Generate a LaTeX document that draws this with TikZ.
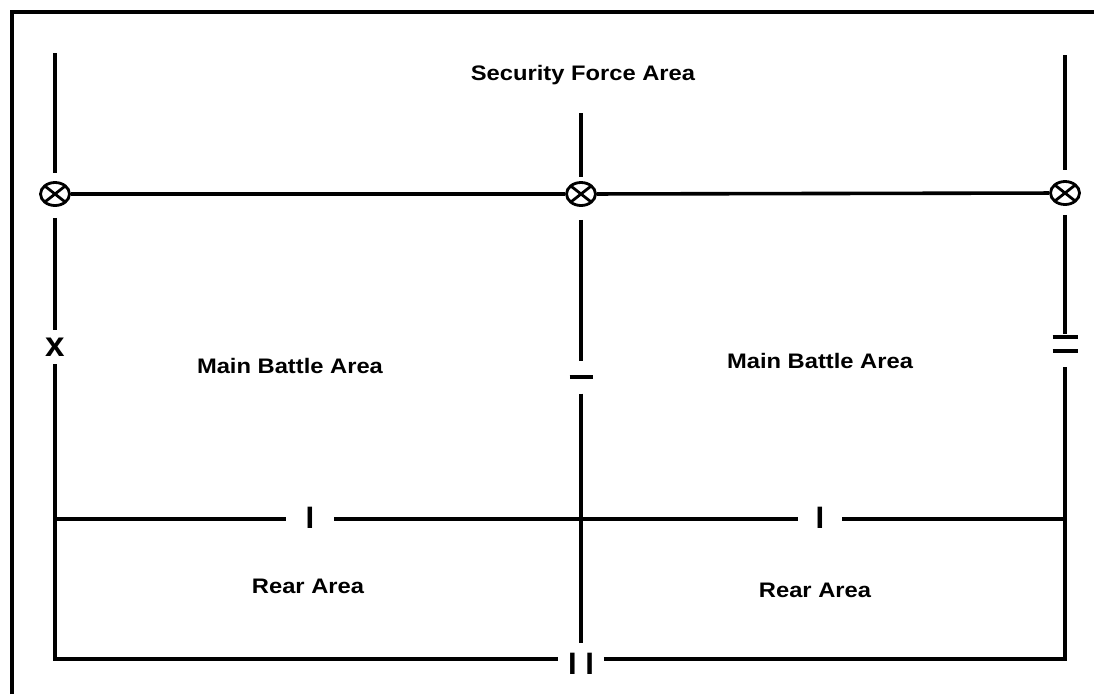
\documentclass[tikz,border=0pt]{standalone}
\usepackage{graphicx}
\usepackage{fontspec}
\setmainfont{Liberation Sans}
\usetikzlibrary{shapes.geometric}
\tikzset{
    edge/.style   = {line width=3.6pt},
    ring/.style   = {ellipse, draw, line width=2.8pt, minimum width=29pt,
                     minimum height=23pt, inner sep=0pt,
                     path picture={\draw[line width=2.8pt]
                        ([shift={(10.3pt,8.1pt)}]path picture bounding box.center) --
                        ([shift={(-10.3pt,-8.1pt)}]path picture bounding box.center)
                        ([shift={(-10.3pt,8.1pt)}]path picture bounding box.center) --
                        ([shift={(10.3pt,-8.1pt)}]path picture bounding box.center);}},
    sign/.style   = {inner sep=0pt, font=\fontsize{31}{31}\selectfont\bfseries},
    area/.style   = {inner sep=0pt, font=\fontsize{21}{21}\selectfont\bfseries}
}
\newcommand{\wide}[1]{\scalebox{1.13}[1]{#1}}

\begin{document}
\begin{tikzpicture}[x=1pt, y=-1pt]
    \useasboundingbox[fill=white] (0,0) rectangle (1094,694);

    % frame
    \coordinate (fa) at (12,694);
    \coordinate (fb) at (12,12);
    \coordinate (fc) at (1094,12);
    \draw[edge, line width=4pt] (fa) -- (fb) -- (fc);

    % boundary points
    \coordinate (ltop) at (55,53);
    \coordinate (mtop) at (581,113);
    \coordinate (rtop) at (1065,55);
    \node[ring] (cL) at (55,194) {};
    \node[ring] (cM) at (581,194) {};
    \node[ring] (cR) at (1065,193) {};
    \node[sign, outer sep=8pt, font=\fontsize{35}{35}\selectfont\bfseries] (mX) at (55,347) {x};
    \node[sign, outer sep=14.5pt] (mD) at (581,377) {\rule{23pt}{4pt}};
    \node[sign, outer sep=1pt] (mE) at (1065,344)
        {\vbox{\hrule width 25pt height 4pt \vskip 10pt \hrule width 25pt height 4pt}};
    \coordinate (lrear) at (55,519);
    \coordinate (rrear) at (1065,519);
    \node[sign, outer sep=20pt] (tL) at (310,518) {I};
    \node[sign, outer sep=18pt] (tR) at (820,518) {I};
    \coordinate (lbot) at (55,659);
    \coordinate (rbot) at (1065,659);
    \node[sign, outer sep=10pt] (tB) at (581,664) {I I};

    % boundaries
    \draw[edge, shorten >=8pt] (ltop) -- (cL);
    \draw[edge, shorten <=11pt] (cL) -- (mX);
    \draw[edge] (mX) -- (lbot) -- (tB.west |- lbot);
    \draw[edge, shorten >=13pt] (tB.east |- rbot) -- (rbot) -- (mE);
    \draw[edge, shorten <=9pt] (cR) -- (mE);
    \draw[edge, shorten >=10pt] (rtop) -- (cR);
    \draw[edge, shorten >=4pt] (mtop) -- (cM);
    \draw[edge, shorten <=13pt] (cM) -- (mD);
    \draw[edge] (mD) -- (tB);
    \draw[edge] (cL) -- (cM) -- (cR);
    \draw[edge] (lrear) -- (lrear -| tL.west) (tL.east |- lrear) -- (tR.west |- lrear)
                (tR.east |- rrear) -- (rrear);

    % areas
    \node[area] (sfa) at (583,75) {\wide{Security Force Area}};
    \node[area] (mbaL) at (290,366) {\wide{Main Battle Area}};
    \node[area] (mbaR) at (820,361) {\wide{Main Battle Area}};
    \node[area] (raL) at (308,586) {\wide{Rear Area}};
    \node[area] (raR) at (815,590) {\wide{Rear Area}};
\end{tikzpicture}
\end{document}
